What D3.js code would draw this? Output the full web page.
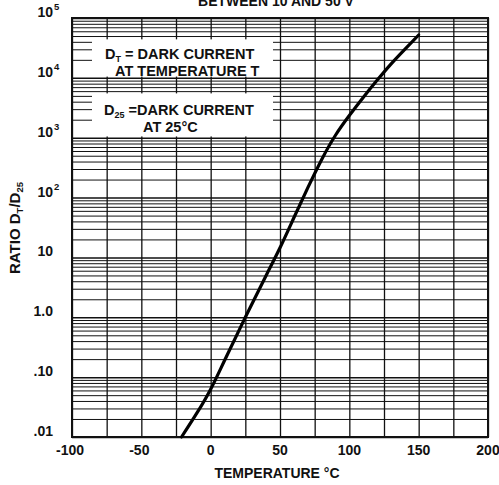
<!DOCTYPE html>
<html><head><meta charset="utf-8">
<script src="https://cdn.jsdelivr.net/npm/d3@7"></script>
<style>
html,body{margin:0;padding:0;background:#fff;overflow:hidden}
text{font-family:"Liberation Sans",Arial,sans-serif;font-weight:bold;fill:#111}
</style></head>
<body>
<svg id="c" width="499" height="485"></svg>
<script>
// ---- data ----
const tempC = [-21, -10, 0, 10, 25, 40, 50, 60, 70, 80, 90, 100, 110, 120, 130, 140, 150];
const ratio = [0.01, 0.025, 0.063, 0.19, 1.0, 5.0, 14.5, 46, 145, 430, 1100, 2350, 4700, 9100, 17000, 30000, 52000];
const xTicks = [-100, -50, 0, 50, 100, 150, 200];
const xTickLabels = ["-100", "-50", "0", "50", "100", "150", "200"];
const yTicks = [1e5, 1e4, 1e3, 1e2, 10, 1, 0.1, 0.01];
const yTickBase = ["10", "10", "10", "10", "10", "1.0", ".10", ".01"];
const yTickExp = ["5", "4", "3", "2", "", "", "", ""];
const titleText = "BETWEEN 10 AND 50 V";
const xTitle = "TEMPERATURE \u00B0C";

const svg = d3.select("#c");
const L = 72, R = 488, T = 18, B = 437;
const x = d3.scaleLinear().domain([-100, 200]).range([L, R]);
const y = d3.scaleLog().domain([0.01, 1e5]).range([B, T]);

// horizontal grid (log minors)
const minor = [];
for (let e = -2; e < 5; e++) for (let m = 1; m <= 9; m++) minor.push(m * Math.pow(10, e));
minor.push(1e5);
svg.append("g").attr("transform", `translate(${L},0)`)
  .call(d3.axisLeft(y).tickValues(minor).tickSize(-(R - L)).tickFormat(""))
  .call(g => g.select(".domain").remove())
  .call(g => g.selectAll("line").attr("stroke", "#111")
     .attr("stroke-width", d => Math.abs(Math.log10(d) - Math.round(Math.log10(d))) < 1e-9 ? 1.5 : 1));

// vertical grid every 25
svg.append("g").attr("transform", `translate(0,${B})`)
  .call(d3.axisBottom(x).tickValues(d3.range(-100, 201, 25)).tickSize(-(B - T)).tickFormat(""))
  .call(g => g.select(".domain").remove())
  .call(g => g.selectAll("line").attr("stroke", "#111").attr("stroke-width", 1.3));

// legend boxes (white, covering grid)
const lg = svg.append("g");
lg.append("rect").attr("x", 92).attr("y", y(4.4e4)).attr("width", 181).attr("height", y(1.05e4) - y(4.4e4)).attr("fill", "#fff");
lg.append("rect").attr("x", 92).attr("y", y(5.5e3)).attr("width", 181).attr("height", y(1.05e3) - y(5.5e3)).attr("fill", "#fff");

const t1 = lg.append("text").attr("x", 105).attr("y", 59).attr("font-size", 14.5);
t1.append("tspan").text("D");
t1.append("tspan").attr("font-size", 9).attr("dy", 3).text("T");
t1.append("tspan").attr("dy", -3).text(" = DARK CURRENT");
lg.append("text").attr("x", 115).attr("y", 76).attr("font-size", 14.5).text("AT TEMPERATURE T");
const t2 = lg.append("text").attr("x", 104).attr("y", 115).attr("font-size", 14.5);
t2.append("tspan").text("D");
t2.append("tspan").attr("font-size", 9).attr("dy", 3).text("25");
t2.append("tspan").attr("dy", -3).text(" =DARK CURRENT");
lg.append("text").attr("x", 143).attr("y", 132).attr("font-size", 14.5).text("AT 25\u00B0C");

// frame
svg.append("rect").attr("x", L).attr("y", T).attr("width", R - L).attr("height", B - T)
  .attr("fill", "none").attr("stroke", "#111").attr("stroke-width", 2);

// curve
const pts = tempC.map((t, i) => [t, ratio[i]]);
svg.append("path").datum(pts)
  .attr("d", d3.line().x(d => x(d[0])).y(d => y(d[1])).curve(d3.curveNatural))
  .attr("fill", "none").attr("stroke", "#000").attr("stroke-width", 3.2).attr("stroke-linecap", "round");

// y tick labels
yTicks.forEach((v, i) => {
  svg.append("text").attr("x", 53).attr("y", y(v) - 1).attr("text-anchor", "end")
    .attr("font-size", 14).text(yTickBase[i]);
  if (yTickExp[i]) svg.append("text").attr("x", 54).attr("y", y(v) - 8)
    .attr("font-size", 9.5).text(yTickExp[i]);
});

// x tick labels
xTicks.forEach((v, i) => {
  svg.append("text").attr("x", x(v) - (v < 0 ? 2 : 0)).attr("y", 455).attr("text-anchor", "middle")
    .attr("font-size", 14).text(xTickLabels[i]);
});

// titles
svg.append("text").attr("x", 277).attr("y", 478).attr("text-anchor", "middle").attr("font-size", 14).text(xTitle);
svg.append("text").attr("x", 276).attr("y", 6).attr("text-anchor", "middle").attr("font-size", 14).text(titleText);
const yt = svg.append("text").attr("transform", "translate(20,228) rotate(-90)").attr("text-anchor", "middle").attr("font-size", 15);
yt.append("tspan").text("RATIO D");
yt.append("tspan").attr("font-size", 9.5).attr("dy", 3).text("T");
yt.append("tspan").attr("dy", -3).text("/D");
yt.append("tspan").attr("font-size", 9.5).attr("dy", 3).text("25");
</script>
</body></html>
